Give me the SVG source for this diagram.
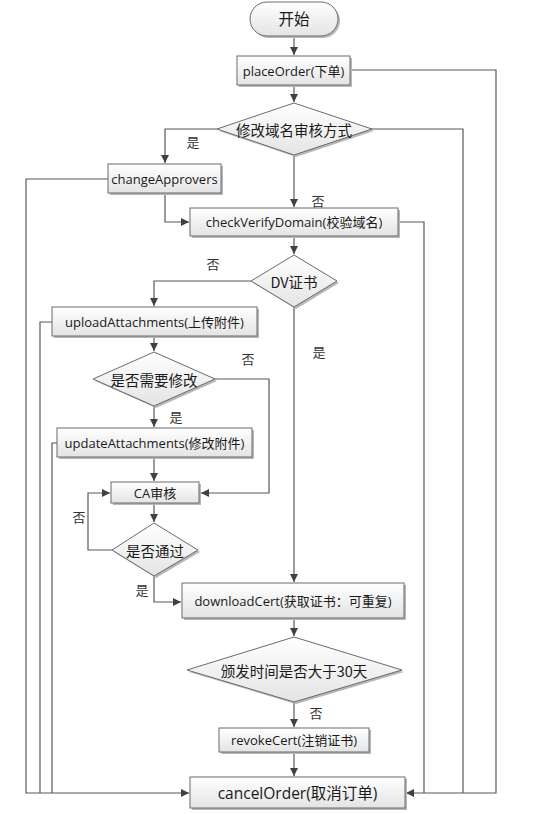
<svg xmlns="http://www.w3.org/2000/svg" width="535" height="814" viewBox="0 0 535 814">
<style>
.n{fill:url(#g);stroke:#6b6b6b;stroke-width:1}
.sh{fill:#b8b8b8}
.c{fill:none;stroke:#595959;stroke-width:1.2}
.t{font-family:"Open Sans","Noto Sans CJK SC",sans-serif;font-size:13px;fill:#1a1a1a;text-anchor:middle;dominant-baseline:central}
.d{font-family:"Noto Sans CJK SC",sans-serif;font-size:14.5px}
.lb{font-family:"Noto Sans CJK SC",sans-serif;font-size:13px;fill:#333;text-anchor:middle;dominant-baseline:central}
.big{font-size:15.5px}
</style>
<defs>
<linearGradient id="g" x1="0" y1="0" x2="0" y2="1"><stop offset="0" stop-color="#ffffff"/><stop offset="1" stop-color="#e4e4e4"/></linearGradient>
<marker id="a" viewBox="0 0 10 10" refX="10" refY="5" markerWidth="8" markerHeight="8" markerUnits="userSpaceOnUse" orient="auto"><path d="M0,0L10,5L0,10z" fill="#404040"/></marker>
</defs>
<g id="connectors">
<path class="c" d="M294,37V55" marker-end="url(#a)"/>
<path class="c" d="M294,86V102" marker-end="url(#a)"/>
<path class="c" d="M350,70H496V793H406" marker-end="url(#a)"/>
<path class="c" d="M217,129H165V163" marker-end="url(#a)"/>
<path class="c" d="M371,129H463V793"/>
<path class="c" d="M108,179H26V793H189" marker-end="url(#a)"/>
<path class="c" d="M165,193V222H189" marker-end="url(#a)"/>
<path class="c" d="M294,155V207" marker-end="url(#a)"/>
<path class="c" d="M398,222H424V793"/>
<path class="c" d="M294,236V254" marker-end="url(#a)"/>
<path class="c" d="M251,281H154V306" marker-end="url(#a)"/>
<path class="c" d="M294,307V582" marker-end="url(#a)"/>
<path class="c" d="M52,322H40V793"/>
<path class="c" d="M154,336V351" marker-end="url(#a)"/>
<path class="c" d="M215,379H269V493H201" marker-end="url(#a)"/>
<path class="c" d="M154,406V427" marker-end="url(#a)"/>
<path class="c" d="M57,443H52V793"/>
<path class="c" d="M154,457V481" marker-end="url(#a)"/>
<path class="c" d="M154,503V522" marker-end="url(#a)"/>
<path class="c" d="M112,550H88V493H110" marker-end="url(#a)"/>
<path class="c" d="M154,576V602H181" marker-end="url(#a)"/>
<path class="c" d="M294,618V636" marker-end="url(#a)"/>
<path class="c" d="M294,702V727" marker-end="url(#a)"/>
<path class="c" d="M294,752V776" marker-end="url(#a)"/>
<text class="lb" x="193" y="141">是</text>
<text class="lb" x="318" y="200">否</text>
<text class="lb" x="213" y="263">否</text>
<text class="lb" x="319" y="351">是</text>
<text class="lb" x="248" y="358">否</text>
<text class="lb" x="176" y="416">是</text>
<text class="lb" x="79" y="516">否</text>
<text class="lb" x="142" y="589">是</text>
<text class="lb" x="316" y="712">否</text>
</g>
<g id="start">
<rect class="sh" x="252" y="4" width="88" height="34" rx="17"/>
<rect class="n" x="250" y="2" width="88" height="34" rx="17"/>
<text class="t big" x="294" y="19">开始</text>
</g>
<g id="placeOrder">
<rect class="sh" x="239" y="58" width="113" height="29"/>
<rect class="n" x="237" y="56" width="113" height="29"/>
<text class="t" x="293.5" y="70.5">placeOrder(下单)</text>
</g>
<g id="modifyMethod">
<polygon class="sh" points="296,105 374,131 296,157 219,131"/>
<polygon class="n" points="294,103 372,129 294,155 217,129"/>
<text class="t d" x="294" y="129">修改域名审核方式</text>
</g>
<g id="changeApprovers">
<rect class="sh" x="110" y="166" width="113" height="29"/>
<rect class="n" x="108" y="164" width="113" height="29"/>
<text class="t" x="164.5" y="178.5">changeApprovers</text>
</g>
<g id="checkVerifyDomain">
<rect class="sh" x="192" y="210" width="208" height="28"/>
<rect class="n" x="190" y="208" width="208" height="28"/>
<text class="t" x="294" y="222">checkVerifyDomain(校验域名)</text>
</g>
<g id="dvCert">
<polygon class="sh" points="296,257 339,283 296,309 253,283"/>
<polygon class="n" points="294,255 337,281 294,307 251,281"/>
<text class="t d" x="294" y="281">DV证书</text>
</g>
<g id="uploadAttachments">
<rect class="sh" x="54" y="309" width="205" height="29"/>
<rect class="n" x="52" y="307" width="205" height="29"/>
<text class="t" x="154.5" y="321.5">uploadAttachments(上传附件)</text>
</g>
<g id="needModify">
<polygon class="sh" points="156,354 217,381 156,408 95,381"/>
<polygon class="n" points="154,352 215,379 154,406 93,379"/>
<text class="t d" x="154" y="379">是否需要修改</text>
</g>
<g id="updateAttachments">
<rect class="sh" x="59" y="430" width="195" height="29"/>
<rect class="n" x="57" y="428" width="195" height="29"/>
<text class="t" x="154.5" y="442.5">updateAttachments(修改附件)</text>
</g>
<g id="caReview">
<rect class="sh" x="113" y="484" width="88" height="21"/>
<rect class="n" x="111" y="482" width="88" height="21"/>
<text class="t" x="155" y="492.5">CA审核</text>
</g>
<g id="passed">
<polygon class="sh" points="156,525 200,552 156,578 114,552"/>
<polygon class="n" points="154,523 198,550 154,576 112,550"/>
<text class="t d" x="155" y="550">是否通过</text>
</g>
<g id="downloadCert">
<rect class="sh" x="184" y="585" width="222" height="35"/>
<rect class="n" x="182" y="583" width="222" height="35"/>
<text class="t" x="293" y="601">downloadCert(获取证书：可重复)</text>
</g>
<g id="over30">
<polygon class="sh" points="296,639 404,672 296,704 189,672"/>
<polygon class="n" points="294,637 402,670 294,702 187,670"/>
<text class="t d" x="294" y="670">颁发时间是否大于30天</text>
</g>
<g id="revokeCert">
<rect class="sh" x="221" y="730" width="150" height="24"/>
<rect class="n" x="219" y="728" width="150" height="24"/>
<text class="t" x="294" y="740">revokeCert(注销证书)</text>
</g>
<g id="cancelOrder">
<rect class="sh" x="192" y="779" width="215" height="31"/>
<rect class="n" x="190" y="777" width="215" height="31"/>
<text class="t big" x="297.5" y="792.5">cancelOrder(取消订单)</text>
</g>
</svg>
